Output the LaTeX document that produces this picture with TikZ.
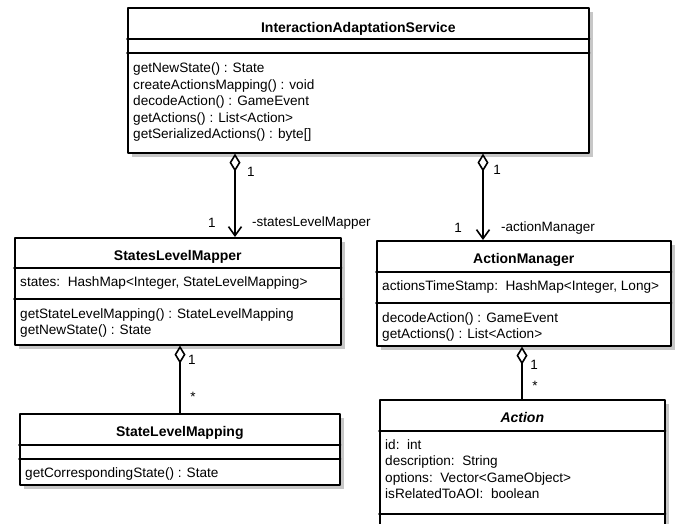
\documentclass[tikz,border=0pt]{standalone}
\usepackage{fontspec}
\setmainfont{Liberation Sans}
\usetikzlibrary{arrows.meta}
\usetikzlibrary{shadows}
\usetikzlibrary{calc}

\begin{document}
\begin{tikzpicture}[x=1pt,y=-1pt,line cap=round,line join=round,
  classbox/.style={draw,line width=1.6pt,fill=white,anchor=north west,inner sep=0pt,
    drop shadow={shadow xshift=4pt,shadow yshift=-4pt,fill=black!22,opacity=1}},
  sepline/.style={line width=1.6pt},
  cname/.style={anchor=base,inner sep=0pt,font=\bfseries\fontsize{14}{16}\selectfont},
  member/.style={anchor=base west,inner sep=0pt,font=\fontsize{13.6}{16}\selectfont},
  mult/.style={inner sep=0pt,font=\fontsize{13.5}{15}\selectfont},
  aggr/.style={line width=1.6pt,{Diamond[fill=white,length=18pt,width=11pt]}-{Straight Barb[length=9pt,width=13pt]}},
  comp/.style={line width=1.6pt,{Diamond[fill=white,length=18pt,width=11pt]}-}]
\useasboundingbox (0,0) rectangle (678,524);
\clip (0,0) rectangle (678,524);

\node[classbox,minimum width=461pt,minimum height=145pt] (ias) at (127,7) {};
\draw[sepline] (ias.west |- 0,39) -- (ias.east |- 0,39);
\draw[sepline] (ias.west |- 0,53) -- (ias.east |- 0,53);
\node[cname] (ias-t) at (ias.north |- 0,33) {InteractionAdaptationService};
\foreach \t [count=\i from 0] in {getNewState() : State,createActionsMapping() : void,decodeAction() : GameEvent,getActions() : List<Action>,getSerializedActions() : byte[]}
  \node[member] (ias-m\i) at (133,73+16.5*\i) {\t};

\node[classbox,minimum width=326pt,minimum height=107pt] (slm) at (14,237) {};
\draw[sepline] (slm.west |- 0,268) -- (slm.east |- 0,268);
\draw[sepline] (slm.west |- 0,299) -- (slm.east |- 0,299);
\node[cname] (slm-t) at (slm.north |- 0,261) {StatesLevelMapper};
\node[member] (slm-a0) at (20,287) {states:\ \ HashMap<Integer, StateLevelMapping>};
\node[member] (slm-m0) at (20,318) {getStateLevelMapping() : StateLevelMapping};
\node[member] (slm-m1) at (20,334.5) {getNewState() : State};

\node[classbox,minimum width=294pt,minimum height=105pt] (am) at (376,240) {};
\draw[sepline] (am.west |- 0,272) -- (am.east |- 0,272);
\draw[sepline] (am.west |- 0,303) -- (am.east |- 0,303);
\node[cname] (am-t) at (am.north |- 0,263) {ActionManager};
\node[member] (am-a0) at (382,290) {actionsTimeStamp:\ \ HashMap<Integer, Long>};
\node[member] (am-m0) at (382,322) {decodeAction() : GameEvent};
\node[member] (am-m1) at (382,338.5) {getActions() : List<Action>};

\node[classbox,minimum width=320pt,minimum height=71pt] (slmap) at (19,413) {};
\draw[sepline] (slmap.west |- 0,445) -- (slmap.east |- 0,445);
\draw[sepline] (slmap.west |- 0,459) -- (slmap.east |- 0,459);
\node[cname] (slmap-t) at (slmap.north |- 0,436) {StateLevelMapping};
\node[member] (slmap-m0) at (25,477) {getCorrespondingState() : State};

\node[classbox,minimum width=285pt,minimum height=141pt] (act) at (379,399) {};
\draw[sepline] (act.west |- 0,431) -- (act.east |- 0,431);
\draw[sepline] (act.west |- 0,514) -- (act.east |- 0,514);
\node[cname,font=\bfseries\itshape\fontsize{14}{16}\selectfont] (act-t) at (act.north |- 0,422) {Action};
\foreach \t [count=\i from 0] in {id:\ \ int,description:\ \ String,options:\ \ Vector<GameObject>,isRelatedToAOI:\ \ boolean}
  \node[member] (act-a\i) at (385,449+16.6*\i) {\t};

\draw[aggr] (ias.south -| 235,0) -- (slm.north -| 235,0);
\draw[aggr] (ias.south -| 483,0) -- (am.north -| 483,0);
\draw[comp] (slm.south -| 180,0) -- (slmap.north -| 180,0);
\draw[comp] (am.south -| 522,0) -- (act.north -| 522,0);

\node[mult] (l1) at (251,172) {1};
\node[mult] (l2) at (212,223) {1};
\node[mult,anchor=west] (l3) at (252,223) {-statesLevelMapper};
\node[mult] (l4) at (497,170) {1};
\node[mult] (l5) at (458,228) {1};
\node[mult,anchor=west] (l6) at (501,228) {-actionManager};
\node[mult] (l7) at (192,360) {1};
\node[mult] (l8) at (193,397) {*};
\node[mult] (l9) at (534,365) {1};
\node[mult] (l10) at (535,386) {*};
\end{tikzpicture}
\end{document}
